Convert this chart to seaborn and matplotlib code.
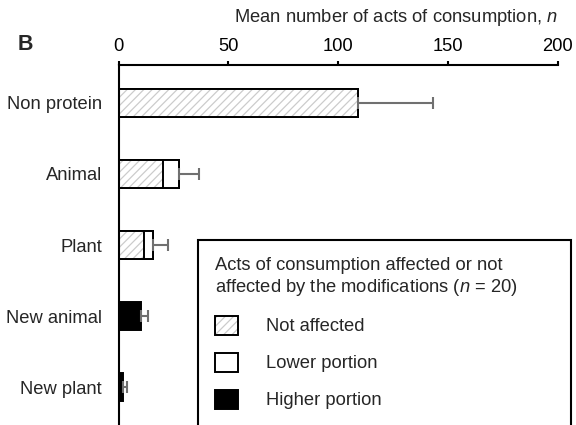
"""Stacked horizontal bars: acts of consumption affected by the modifications."""
import matplotlib
matplotlib.use("Agg")
import matplotlib.pyplot as plt
import numpy as np
import pandas as pd
import seaborn as sns
from matplotlib.patches import Patch

categories = ["Non protein", "Animal", "Plant", "New animal", "New plant"]
not_affected = [109.0, 20.4, 11.7, 0.0, 0.0]
lower_portion = [0.0, 7.0, 4.1, 0.0, 0.0]
higher_portion = [0.0, 0.0, 0.0, 10.2, 1.9]
error_plus = [34.0, 9.3, 6.9, 3.4, 1.8]
x_ticks = [0, 50, 100, 150, 200]

sns.set_style("ticks")
plt.rcParams["font.family"] = ["Liberation Sans", "DejaVu Sans"]
plt.rcParams["mathtext.fontset"] = "custom"
plt.rcParams["mathtext.it"] = "Liberation Sans:italic"
plt.rcParams["mathtext.rm"] = "Liberation Sans"
plt.rcParams["hatch.linewidth"] = 0.9

FS = 13.2
HATCH_GRAY = "#cccccc"
EDGE_LW = 1.4

df = pd.DataFrame({
    "category": categories,
    "not_affected": not_affected,
    "lower": lower_portion,
    "higher": higher_portion,
    "err": error_plus,
})
df["upto_lower"] = df["not_affected"] + df["lower"]
df["total"] = df["upto_lower"] + df["higher"]

fig = plt.figure(figsize=(5.76, 4.25), dpi=100)
ax = fig.add_axes([118.5 / 576, 0.0, (557.7 - 118.5) / 576, 1 - 65 / 425])

common = dict(y="category", orient="y", width=0.39, saturation=1,
              errorbar=None, ax=ax)
# back to front: total (black), up to lower (white), not affected (hatched)
sns.barplot(data=df, x="total", color="black", edgecolor="black",
            linewidth=EDGE_LW, **common)
sns.barplot(data=df, x="upto_lower", color="white", edgecolor="black",
            linewidth=EDGE_LW, **common)
sns.barplot(data=df, x="not_affected", color="white", edgecolor=HATCH_GRAY,
            hatch="////", linewidth=0, **common)
sns.barplot(data=df, x="not_affected", fill=False, edgecolor="black",
            linewidth=EDGE_LW, **common)

ypos = np.arange(len(categories))
ax.errorbar(df["total"], ypos, xerr=[np.zeros(len(ypos)), df["err"]],
            fmt="none", ecolor="#707070", elinewidth=1.5, capsize=4.3,
            capthick=1.5, zorder=1)

ax.set_xlim(0, 200)
ax.set_ylim(4.535, -0.535)
ax.xaxis.tick_top()
ax.xaxis.set_label_position("top")
ax.set_xticks(x_ticks)
ax.tick_params(axis="x", length=3, width=1.5, pad=4, labelsize=FS,
               colors="black")
ax.tick_params(axis="y", length=0, pad=12, labelsize=FS)
ax.set_ylabel("")
ax.set_xlabel("Mean number of acts of consumption, $\\it{n}$",
              fontsize=FS, loc="right", labelpad=12)
for side in ("right", "bottom"):
    ax.spines[side].set_visible(False)
for side in ("top", "left"):
    ax.spines[side].set_linewidth(1.5)
    ax.spines[side].set_color("black")

fig.text(18 / 576, 1 - 45 / 425, "B", fontsize=15.5, fontweight="bold",
         ha="left", va="center")

h_hatch = (Patch(facecolor="white", edgecolor=HATCH_GRAY, hatch="////",
                 linewidth=0),
           Patch(facecolor="none", edgecolor="black", linewidth=EDGE_LW))
h_lower = Patch(facecolor="white", edgecolor="black", linewidth=EDGE_LW)
h_higher = Patch(facecolor="black", edgecolor="black", linewidth=EDGE_LW)
leg = fig.legend(
    [h_hatch, h_lower, h_higher],
    ["Not affected", "Lower portion", "Higher portion"],
    title="Acts of consumption affected or not\naffected by the modifications ($\\it{n}$ = 20)",
    loc="upper left", bbox_to_anchor=(198 / 576, 0, 373 / 576, 1 - 240 / 425),
    mode="expand", borderaxespad=0, fontsize=FS, title_fontsize=FS,
    alignment="left", frameon=True, fancybox=False, shadow=False,
    handlelength=1.25, handleheight=1.2, handletextpad=1.5,
    labelspacing=0.95, borderpad=0.95,
)
leg.get_frame().set_edgecolor("black")
leg.get_frame().set_linewidth(1.5)
leg.get_frame().set_alpha(1)

fig.savefig("out.png", dpi=100)
